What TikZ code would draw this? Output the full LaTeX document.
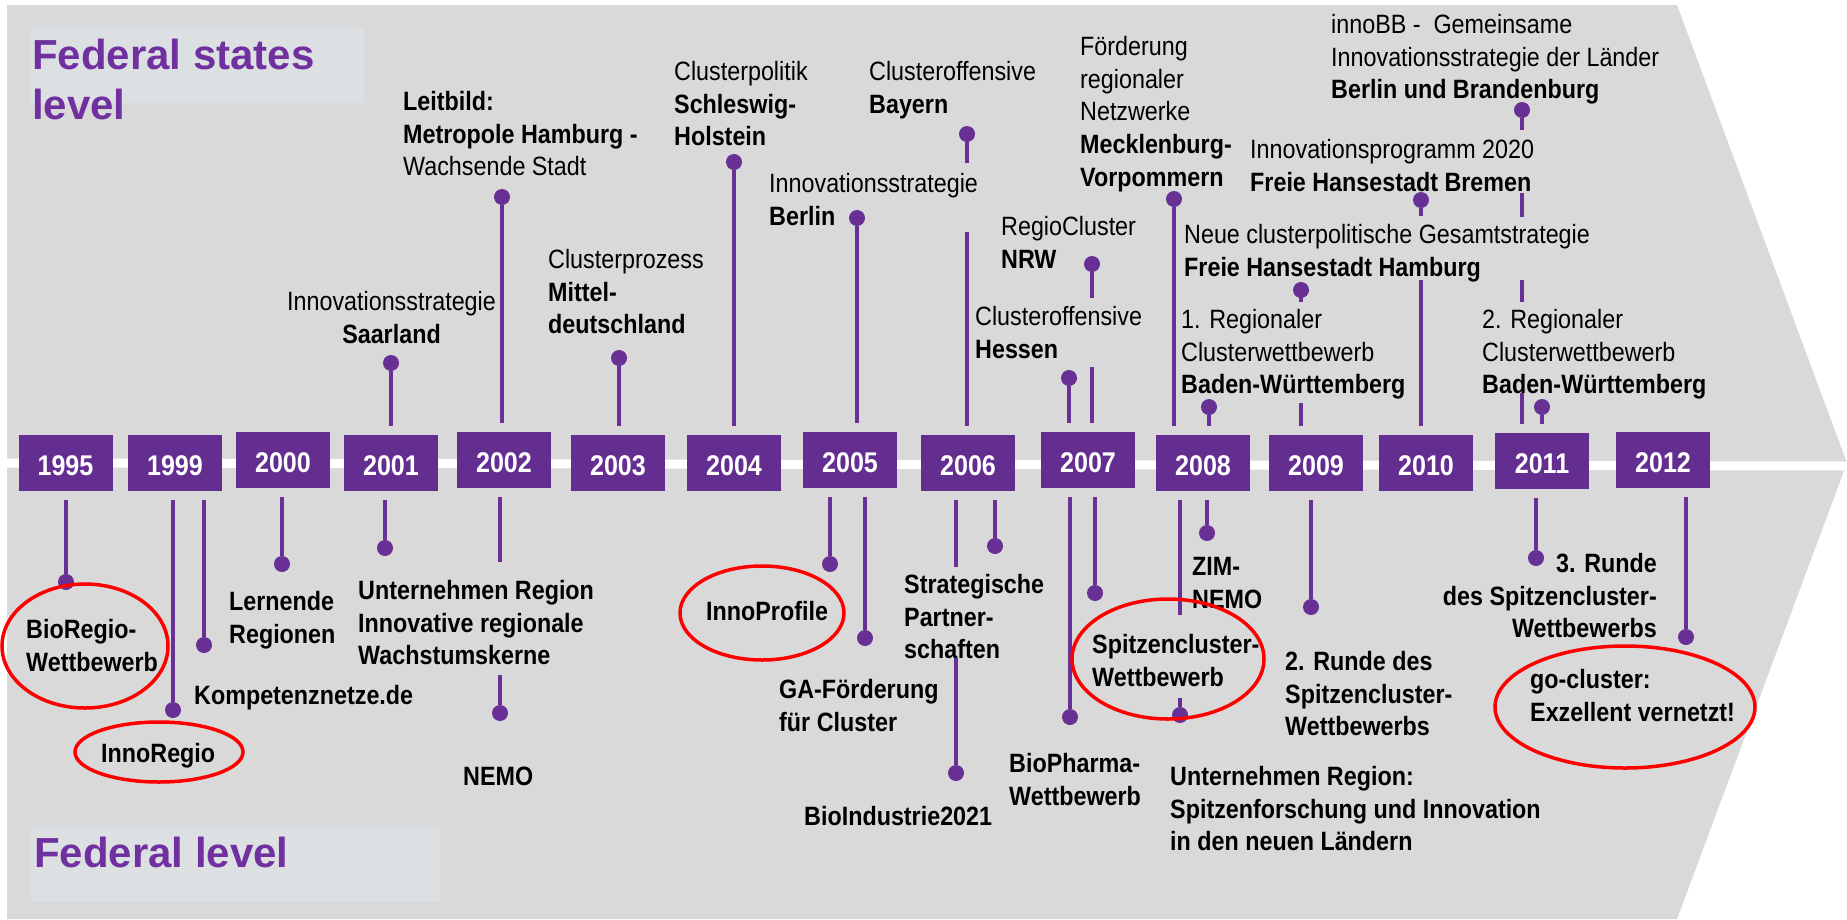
\documentclass[tikz,border=0pt]{standalone}
\usepackage{fontspec}
\setmainfont{Liberation Sans}
\newfontfamily\labfont{Liberation Sans}[FakeStretch=0.88]
\usetikzlibrary{shapes.geometric}
\definecolor{bggray}{RGB}{217,217,217}
\definecolor{titlebox}{RGB}{221,224,226}
\definecolor{titlepurple}{RGB}{112,48,160}
\definecolor{boxpurple}{RGB}{100,46,145}
\definecolor{linepurple}{RGB}{104,48,148}
\newcommand\fstrut{\rule{0pt}{20pt}}
\begin{document}
\begin{tikzpicture}[x=1pt,y=-1pt,
  yearbox/.style={fill=boxpurple, minimum width=94pt, minimum height=56pt, inner sep=0pt, text=white,
    font=\labfont\fontsize{28.5}{30}\selectfont\bfseries, text height=24pt, text depth=0pt},
  dot/.style={circle, fill=linepurple, minimum size=16pt, inner sep=0pt},
  conn/.style={draw=linepurple, line width=3.2pt},
  lab/.style={inner sep=0pt, font=\labfont\fontsize{26.5}{32.8}\selectfont, align=left, anchor=north west, text=black},
  blab/.style={lab, font=\labfont\fontsize{26.5}{32.8}\selectfont\bfseries},
  ring/.style={ellipse, draw=red, line width=3.5pt, inner sep=0pt},
  titlebg/.style={fill=titlebox, inner sep=0pt, anchor=north west},
  titletext/.style={inner sep=0pt, anchor=north west, align=left, text=titlepurple, font=\fontsize{42}{50}\selectfont\bfseries},
]
\useasboundingbox (0,0) rectangle (1847,919);
% background arrow
\fill[bggray] (7,5) -- (1677,5) -- (1847,463) -- (1677,919) -- (7,919) -- cycle;
\draw[white, line width=9pt] (0,463) -- (1847,466);

% titles
\node[titlebg, minimum width=333pt, minimum height=76pt] (tb1) at (31,27) {};
\node[titletext] (tt1) at (32,38) {\rule{0pt}{31pt}Federal states\\level};
\node[titlebg, minimum width=409pt, minimum height=75pt] (tb2) at (31,827) {};
\node[titletext] (tt2) at (34,836) {\rule{0pt}{31pt}Federal level};

% year boxes
\node[yearbox] (b1995) at (65.5,463) {1995};
\node[yearbox] (b1999) at (175,463) {1999};
\node[yearbox] (b2000) at (283,460) {2000};
\node[yearbox] (b2001) at (391,463) {2001};
\node[yearbox] (b2002) at (504,460) {2002};
\node[yearbox] (b2003) at (618,463) {2003};
\node[yearbox] (b2004) at (734,463) {2004};
\node[yearbox] (b2005) at (850,460) {2005};
\node[yearbox] (b2006) at (968,463) {2006};
\node[yearbox] (b2007) at (1088,460) {2007};
\node[yearbox] (b2008) at (1203,463) {2008};
\node[yearbox] (b2009) at (1316,463) {2009};
\node[yearbox] (b2010) at (1426,463) {2010};
\node[yearbox] (b2011) at (1542,461) {2011};
\node[yearbox] (b2012) at (1663,460) {2012};

% upper dots
\node[dot] (u1) at (391,363) {};
\node[dot] (u2) at (502,197) {};
\node[dot] (u3) at (619,358) {};
\node[dot] (u4) at (734,162) {};
\node[dot] (u5) at (857,218) {};
\node[dot] (u6) at (967,134) {};
\node[dot] (u7) at (1092,264) {};
\node[dot] (u8) at (1069,378) {};
\node[dot] (u9) at (1174,199) {};
\node[dot] (u10) at (1301,290) {};
\node[dot] (u11) at (1209,407) {};
\node[dot] (u12) at (1421,200) {};
\node[dot] (u13) at (1522,110) {};
\node[dot] (u14) at (1542,407) {};

% lower dots
\node[dot] (l1) at (66,582) {};
\node[dot] (l2) at (173,710) {};
\node[dot] (l3) at (204,645) {};
\node[dot] (l4) at (282,564) {};
\node[dot] (l5) at (385,548) {};
\node[dot] (l6) at (500,713) {};
\node[dot] (l7) at (830,564) {};
\node[dot] (l8) at (865,638) {};
\node[dot] (l9) at (956,773) {};
\node[dot] (l10) at (995,546) {};
\node[dot] (l11) at (1070,717) {};
\node[dot] (l12) at (1095,593) {};
\node[dot] (l13) at (1180,715) {};
\node[dot] (l14) at (1207,533) {};
\node[dot] (l15) at (1311,607) {};
\node[dot] (l16) at (1536,558) {};
\node[dot] (l17) at (1686,637) {};

% gap coordinates
\coordinate (g6a) at (967,163);  \coordinate (g6b) at (967,232);
\coordinate (g7a) at (1092,298); \coordinate (g7b) at (1092,367);
\coordinate (g10a) at (1301,302); \coordinate (g10b) at (1301,403);
\coordinate (g12a) at (1421,216); \coordinate (g12b) at (1421,280);
\coordinate (g13a) at (1522,130); \coordinate (g13b) at (1522,193);
\coordinate (g13c) at (1522,217); \coordinate (g13d) at (1522,280);
\coordinate (g13e) at (1522,302); \coordinate (g13f) at (1522,393);
\coordinate (h6a) at (500,562); \coordinate (h6b) at (500,675);
\coordinate (h9a) at (956,567); \coordinate (h9b) at (956,658);
\coordinate (h13a) at (1180,615); \coordinate (h13b) at (1180,698);

% upper connectors
\draw[conn, shorten >=9pt] (u1) -- (u1 |- b2001.north);
\draw[conn, shorten >=9pt] (u2) -- (u2 |- b2002.north);
\draw[conn, shorten >=9pt] (u3) -- (u3 |- b2003.north);
\draw[conn, shorten >=9pt] (u4) -- (u4 |- b2004.north);
\draw[conn, shorten >=9pt] (u5) -- (u5 |- b2005.north);
\draw[conn] (u6) -- (g6a);
\draw[conn, shorten >=9pt] (g6b) -- (g6b |- b2006.north);
\draw[conn] (u7) -- (g7a);
\draw[conn, shorten >=9pt] (g7b) -- (g7b |- b2007.north);
\draw[conn, shorten >=9pt] (u8) -- (u8 |- b2007.north);
\draw[conn, shorten >=9pt] (u9) -- (u9 |- b2008.north);
\draw[conn] (u10) -- (g10a);
\draw[conn, shorten >=9pt] (g10b) -- (g10b |- b2009.north);
\draw[conn, shorten >=9pt] (u11) -- (u11 |- b2008.north);
\draw[conn] (u12) -- (g12a);
\draw[conn, shorten >=9pt] (g12b) -- (g12b |- b2010.north);
\draw[conn] (u13) -- (g13a);
\draw[conn] (g13b) -- (g13c);
\draw[conn] (g13d) -- (g13e);
\draw[conn, shorten >=9pt] (g13f) -- (g13f |- b2011.north);
\draw[conn, shorten >=9pt] (u14) -- (u14 |- b2011.north);

% lower connectors
\draw[conn, shorten <=9pt] (l1 |- b1995.south) -- (l1);
\draw[conn, shorten <=9pt] (l2 |- b1999.south) -- (l2);
\draw[conn, shorten <=9pt] (l3 |- b1999.south) -- (l3);
\draw[conn, shorten <=9pt] (l4 |- b2000.south) -- (l4);
\draw[conn, shorten <=9pt] (l5 |- b2001.south) -- (l5);
\draw[conn, shorten <=9pt] (l6 |- b2002.south) -- (h6a);
\draw[conn] (h6b) -- (l6);
\draw[conn, shorten <=9pt] (l7 |- b2005.south) -- (l7);
\draw[conn, shorten <=9pt] (l8 |- b2005.south) -- (l8);
\draw[conn, shorten <=9pt] (l9 |- b2006.south) -- (h9a);
\draw[conn] (h9b) -- (l9);
\draw[conn, shorten <=9pt] (l10 |- b2006.south) -- (l10);
\draw[conn, shorten <=9pt] (l11 |- b2007.south) -- (l11);
\draw[conn, shorten <=9pt] (l12 |- b2007.south) -- (l12);
\draw[conn, shorten <=9pt] (l13 |- b2008.south) -- (h13a);
\draw[conn] (h13b) -- (l13);
\draw[conn, shorten <=9pt] (l14 |- b2008.south) -- (l14);
\draw[conn, shorten <=9pt] (l15 |- b2009.south) -- (l15);
\draw[conn, shorten <=9pt] (l16 |- b2011.south) -- (l16);
\draw[conn, shorten <=9pt] (l17 |- b2012.south) -- (l17);

% upper labels
\node[lab, anchor=north, align=center] (t1) at (391.5,290) {\fstrut Innovationsstrategie\\\textbf{Saarland}};
\node[lab] (t2) at (403,90) {\fstrut\textbf{Leitbild:}\\\textbf{Metropole Hamburg -}\\Wachsende Stadt};
\node[lab] (t3) at (548,248) {\fstrut Clusterprozess\\\textbf{Mittel-}\\\textbf{deutschland}};
\node[lab] (t4) at (674,60) {\fstrut Clusterpolitik\\\textbf{Schleswig-}\\\textbf{Holstein}};
\node[lab] (t5) at (769,172) {\fstrut Innovationsstrategie\\\textbf{Berlin}};
\node[lab] (t6) at (869,60) {\fstrut Clusteroffensive\\\textbf{Bayern}};
\node[lab] (t7) at (1001,215) {\fstrut RegioCluster\\\textbf{NRW}};
\node[lab] (t8) at (975,305) {\fstrut Clusteroffensive\\\textbf{Hessen}};
\node[lab] (t9) at (1080,35) {\fstrut Förderung\\regionaler\\Netzwerke\\\textbf{Mecklenburg-}\\\textbf{Vorpommern}};
\node[lab] (t10) at (1184,223) {\fstrut Neue clusterpolitische Gesamtstrategie\\\textbf{Freie Hansestadt Hamburg}};
\node[lab] (t11) at (1181,308) {\fstrut 1. Regionaler\\Clusterwettbewerb\\\textbf{Baden-Württemberg}};
\node[lab] (t12) at (1250,138) {\fstrut Innovationsprogramm 2020\\\textbf{Freie Hansestadt Bremen}};
\node[lab] (t13) at (1331,13) {\fstrut innoBB -\ \ Gemeinsame\\Innovationsstrategie der Länder\\\textbf{Berlin und Brandenburg}};
\node[lab] (t14) at (1482,308) {\fstrut 2. Regionaler\\Clusterwettbewerb\\\textbf{Baden-Württemberg}};

% lower labels
\node[blab] (s1) at (26,618) {\fstrut BioRegio-\\Wettbewerb};
\node[blab] (s2) at (101,742) {\fstrut InnoRegio};
\node[blab] (s3) at (194,684) {\fstrut Kompetenznetze.de};
\node[blab] (s4) at (229,590) {\fstrut Lernende\\Regionen};
\node[blab] (s5) at (358,579) {\fstrut Unternehmen Region\\Innovative regionale\\Wachstumskerne};
\node[blab] (s6) at (463,765) {\fstrut NEMO};
\node[blab] (s7) at (706,600) {\fstrut InnoProfile};
\node[blab] (s8) at (779,678) {\fstrut GA-Förderung\\für Cluster};
\node[blab] (s9) at (804,805) {\fstrut BioIndustrie2021};
\node[blab] (s10) at (904,573) {\fstrut Strategische\\Partner-\\schaften};
\node[blab] (s11) at (1009,752) {\fstrut BioPharma-\\Wettbewerb};
\node[blab] (s12) at (1092,633) {\fstrut Spitzencluster-\\Wettbewerb};
\node[blab] (s13) at (1170,765) {\fstrut Unternehmen Region:\\Spitzenforschung und Innovation\\in den neuen Ländern};
\node[blab] (s14) at (1192,555) {\fstrut ZIM-\\NEMO};
\node[blab] (s15) at (1285,650) {\fstrut 2. Runde des\\Spitzencluster-\\Wettbewerbs};
\node[blab, anchor=north east, align=right] (s16) at (1657,552) {\fstrut 3. Runde\\des Spitzencluster-\\Wettbewerbs};
\node[blab] (s17) at (1530,668) {\fstrut go-cluster:\\Exzellent vernetzt!};

% red rings
\node[ring, minimum width=166pt, minimum height=124pt] (e1) at (85,646) {};
\node[ring, minimum width=168pt, minimum height=60pt] (e2) at (159,752) {};
\node[ring, minimum width=164pt, minimum height=94pt] (e3) at (762,613) {};
\node[ring, minimum width=192pt, minimum height=120pt] (e4) at (1168,659) {};
\node[ring, minimum width=260pt, minimum height=122pt] (e5) at (1625,707) {};
\end{tikzpicture}
\end{document}
